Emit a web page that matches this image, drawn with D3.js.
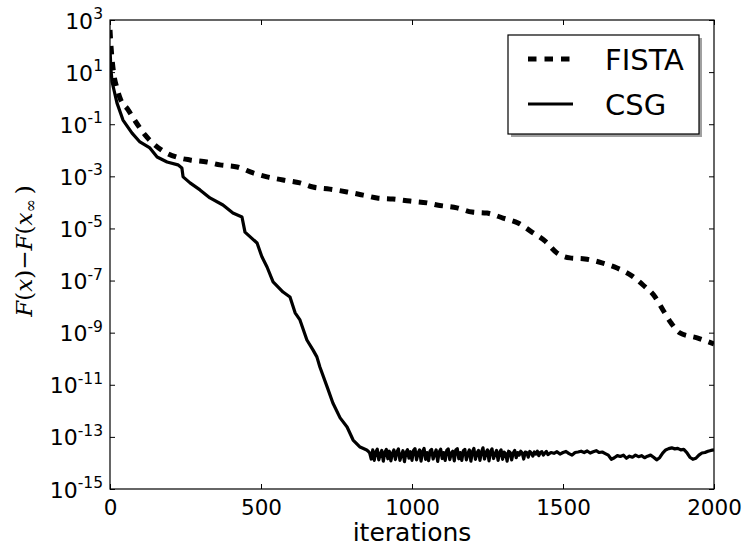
<!DOCTYPE html>
<html>
<head>
<meta charset="utf-8">
<script src="https://cdn.jsdelivr.net/npm/d3@7"></script>
<style>
  body { margin: 0; background: #fff; }
  text { font-family: "DejaVu Sans", sans-serif; }
</style>
</head>
<body>
<div id="chart"></div>
<script>
// iterations / log10 of F(x)-F(x_inf)
var fistaIter = [0,3,7,13,23,33,60,83,116,149,182,232,265,321,364,421,474,520,573,629,
  672,728,785,838,884,937,993,1050,1083,1149,1199,1248,1301,1351,1397,1440,1480,1523,1573,1629,
  1679,1728,1765,1805,1831,1858,1887,1944,2000];
var fistaLog = [2.62,2.04,1.47,0.89,0.39,0.01,-0.45,-0.87,-1.41,-1.80,-2.07,-2.30,-2.37,-2.45,-2.56,-2.64,-2.87,-3.02,-3.14,-3.25,
  -3.41,-3.49,-3.60,-3.72,-3.83,-3.87,-3.95,-4.02,-4.10,-4.21,-4.37,-4.41,-4.60,-4.79,-5.14,-5.48,-5.94,-6.13,-6.17,-6.32,
  -6.52,-6.82,-7.17,-7.63,-8.13,-8.63,-9.01,-9.20,-9.43];

var csgIter = [0,3,7,23,43,73,99,132,156,189,225,238,242,265,298,331,374,407,437,447,487,
  503,520,540,573,596,613,629,652,672,685,695,719,738,762,785,805,828,850];
var csgLog = [1.9,1.1,0.62,-0.18,-0.84,-1.34,-1.68,-1.91,-2.26,-2.45,-2.56,-2.68,-3.02,-3.25,-3.52,-3.83,-4.10,-4.41,-4.56,-5.14,-5.56,
  -6.09,-6.48,-7.05,-7.44,-7.63,-8.24,-8.51,-9.28,-9.66,-9.93,-10.32,-11.08,-11.70,-12.27,-12.62,-13.12,-13.39,-13.5];

// noisy floor of CSG: every 5 iterations from 855, then every 10 from 1460
var csgFloorA = [-13.55,-13.62,-13.85,-13.5,-13.9,-13.58,-13.47,-13.88,-13.66,-13.52,
  -13.93,-13.6,-13.48,-13.84,-13.55,-13.92,-13.63,-13.5,-13.87,-13.58,
  -13.46,-13.9,-13.7,-13.53,-13.95,-13.6,-13.49,-13.82,-13.57,-13.9,
  -13.52,-13.45,-13.88,-13.62,-13.5,-13.93,-13.56,-13.44,-13.86,-13.6,
  -13.91,-13.54,-13.48,-13.85,-13.66,-13.5,-13.94,-13.58,-13.47,-13.83,
  -13.6,-13.9,-13.52,-13.46,-13.87,-13.63,-13.55,-13.92,-13.5,-13.45,
  -13.84,-13.6,-13.9,-13.53,-13.48,-13.88,-13.64,-13.5,-13.93,-13.57,
  -13.44,-13.86,-13.62,-13.52,-13.9,-13.58,-13.42,-13.85,-13.6,-13.5,
  -13.92,-13.56,-13.46,-13.83,-13.65,-13.52,-13.9,-13.6,-13.5,-13.86,
  -13.58,-13.64,-13.93,-13.55,-13.6,-13.88,-13.62,-13.52,-13.8,-13.6,
  -13.7,-13.55,-13.62,-13.85,-13.58,-13.6,-13.78,-13.56,-13.62,-13.74,
  -13.58,-13.66,-13.55,-13.72,-13.6,-13.57,-13.7,-13.62,-13.56,-13.68];
var csgFloorB = [-13.6,-13.63,-13.57,-13.66,-13.6,-13.56,-13.64,-13.7,-13.6,-13.58,
  -13.55,-13.6,-13.54,-13.62,-13.57,-13.53,-13.6,-13.58,-13.64,-13.7,
  -13.86,-13.8,-13.72,-13.75,-13.7,-13.82,-13.74,-13.78,-13.7,-13.76,
  -13.72,-13.8,-13.74,-13.7,-13.78,-13.88,-13.8,-13.62,-13.5,-13.45,
  -13.42,-13.46,-13.44,-13.5,-13.48,-13.6,-13.78,-13.86,-13.82,-13.7,
  -13.62,-13.6,-13.55,-13.52,-13.5];

var xTicks = [0, 500, 1000, 1500, 2000];
var yTickExp = [3, 1, -1, -3, -5, -7, -9, -11, -13, -15];
var seriesNames = ["FISTA", "CSG"];

Desenhar();

function Desenhar()
{
  var W = 745, H = 550;
  var pL = 110, pR = 714, pT = 20, pB = 489;
  var i;

  var svg = d3.select("#chart").append("svg")
    .attr("width", W).attr("height", H);

  var x = d3.scaleLinear().domain([0, 2000]).range([pL, pR]);
  var y = d3.scaleLog().domain([1e-15, 1e3]).range([pB, pT]);

  // point lists
  var fista = [];
  for (i = 0; i < fistaIter.length; i++) fista.push([fistaIter[i], Math.pow(10, fistaLog[i])]);
  var csg = [];
  for (i = 0; i < csgIter.length; i++) csg.push([csgIter[i], Math.pow(10, csgLog[i])]);
  for (i = 0; i < csgFloorA.length; i++) csg.push([855 + 5 * i, Math.pow(10, csgFloorA[i])]);
  for (i = 0; i < csgFloorB.length; i++) csg.push([1460 + 10 * i, Math.pow(10, csgFloorB[i])]);

  var line = d3.line().x(function(d){ return x(d[0]); }).y(function(d){ return y(d[1]); });

  svg.append("defs").append("clipPath").attr("id", "clip")
    .append("rect").attr("x", pL).attr("y", pT).attr("width", pR - pL).attr("height", pB - pT);

  var plot = svg.append("g").attr("clip-path", "url(#clip)");
  plot.append("path").datum(csg).attr("d", line)
    .attr("fill", "none").attr("stroke", "#000").attr("stroke-width", 3.2).attr("stroke-linejoin", "round");
  plot.append("path").datum(fista).attr("d", line.curve(d3.curveMonotoneX))
    .attr("fill", "none").attr("stroke", "#000").attr("stroke-width", 5)
    .attr("stroke-dasharray", "8.5,7.5");

  // ticks pointing inward on all four sides
  function noLabel() { return ""; }
  svg.append("g").attr("transform", "translate(0," + pB + ")")
    .call(d3.axisBottom(x).tickValues(xTicks).tickSize(-5).tickSizeOuter(0).tickPadding(6).tickFormat(d3.format("d")))
    .call(function(g){ g.select(".domain").remove(); })
    .selectAll("text").attr("font-size", 21.5).attr("fill", "#000").attr("dy", "0.95em");
  svg.append("g").attr("transform", "translate(0," + pT + ")")
    .call(d3.axisTop(x).tickValues(xTicks).tickSize(-5).tickSizeOuter(0).tickFormat(noLabel))
    .call(function(g){ g.select(".domain").remove(); });

  var yVals = yTickExp.map(function(e){ return Math.pow(10, e); });
  var yl = svg.append("g").attr("transform", "translate(" + pL + ",0)")
    .call(d3.axisLeft(y).tickValues(yVals).tickSize(-5).tickSizeOuter(0).tickFormat(noLabel))
    .call(function(g){ g.select(".domain").remove(); });
  svg.append("g").attr("transform", "translate(" + pR + ",0)")
    .call(d3.axisRight(y).tickValues(yVals).tickSize(-5).tickSizeOuter(0).tickFormat(noLabel))
    .call(function(g){ g.select(".domain").remove(); });

  yl.selectAll(".tick text").remove();
  yl.selectAll(".tick").each(function(d, k) {
    var t = d3.select(this).append("text")
      .attr("x", -7).attr("y", 8).attr("text-anchor", "end").attr("fill", "#000")
      .attr("font-size", 22);
    t.append("tspan").text("10");
    t.append("tspan").attr("font-size", 15.5).attr("dy", -9.5).text(String(yTickExp[k]));
  });
  svg.selectAll(".tick line").attr("stroke", "#000").attr("stroke-width", 1);

  // frame
  svg.append("rect").attr("x", pL).attr("y", pT)
    .attr("width", pR - pL).attr("height", pB - pT)
    .attr("fill", "none").attr("stroke", "#000").attr("stroke-width", 1.2);

  // axis labels
  svg.append("text").attr("x", (pL + pR) / 2).attr("y", 541)
    .attr("text-anchor", "middle").attr("font-size", 25).attr("fill", "#000").text("iterations");

  var ylab = svg.append("text").attr("transform", "translate(32,251) rotate(-90)")
    .attr("text-anchor", "middle").attr("font-size", 23).attr("fill", "#000")
    .style("font-family", "'DejaVu Serif', serif");
  ylab.append("tspan").attr("font-style", "italic").text("F");
  ylab.append("tspan").text("(");
  ylab.append("tspan").attr("font-style", "italic").text("x");
  ylab.append("tspan").text(")\u2212");
  ylab.append("tspan").attr("font-style", "italic").text("F");
  ylab.append("tspan").text("(");
  ylab.append("tspan").attr("font-style", "italic").text("x");
  ylab.append("tspan").attr("font-size", 16).attr("dy", 4).text("\u221E");
  ylab.append("tspan").attr("dy", -4).attr("dx", 5).text(")");

  // legend
  var lg = svg.append("g");
  lg.append("rect").attr("x", 511).attr("y", 38).attr("width", 191).attr("height", 99).attr("fill", "#a0a0a0");
  lg.append("rect").attr("x", 508).attr("y", 35).attr("width", 191).attr("height", 99)
    .attr("fill", "#fff").attr("stroke", "#000").attr("stroke-width", 1.2);
  var legendY = [59, 104];
  seriesNames.forEach(function(name, k) {
    lg.append("line").attr("x1", 528).attr("x2", 573).attr("y1", legendY[k]).attr("y2", legendY[k])
      .attr("stroke", "#000").attr("stroke-width", k === 0 ? 5 : 3.2)
      .attr("stroke-dasharray", k === 0 ? "8.5,8" : null);
    lg.append("text").attr("x", 605).attr("y", legendY[k] + 11).attr("font-size", 29)
      .attr("fill", "#000").text(name);
  });
}
</script>
</body>
</html>
